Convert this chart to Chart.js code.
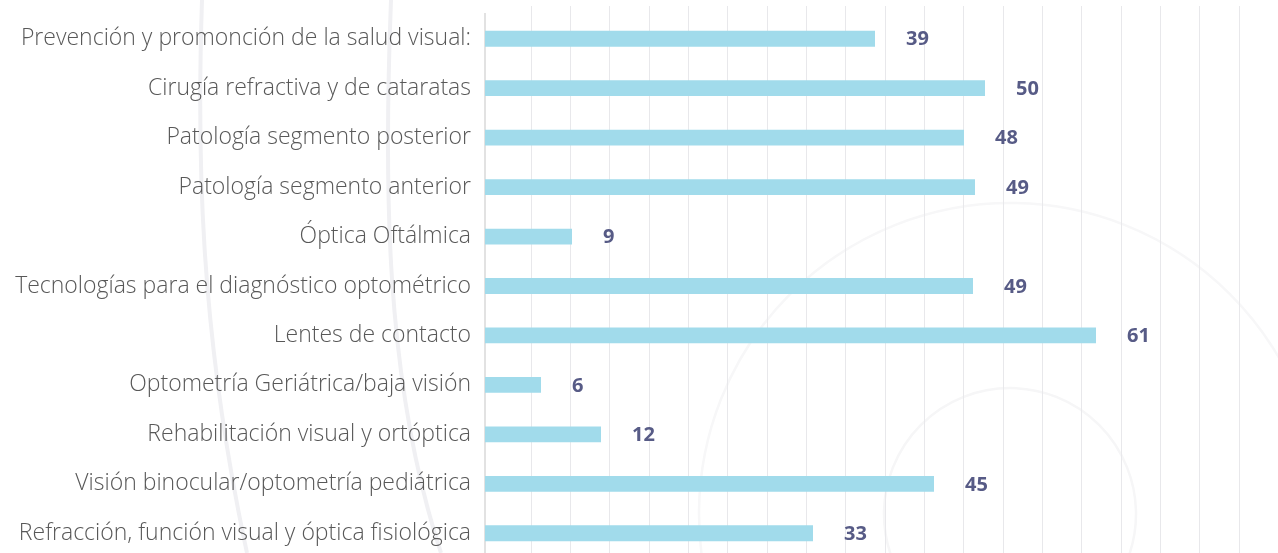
<!DOCTYPE html>
<html><head><meta charset="utf-8">
<script src="https://cdn.jsdelivr.net/npm/chart.js@4"></script>
<style>
html,body{margin:0;padding:0;background:#fff;overflow:hidden;width:1278px;height:553px}
#wrap{width:1278px;height:553px;overflow:hidden;position:relative}
#decor{position:absolute;left:0;top:0}
#wrap canvas{display:block;position:relative}
</style></head><body>
<div id="wrap">
<svg id="decor" width="1278" height="553" viewBox="0 0 1278 553" aria-hidden="true">
  <g fill="none">
    <path d="M202 0 C197 150 199 330 247 553" stroke="#f0f0f3" stroke-width="4"/>
    <path d="M391 0 C384 180 384 380 441 553" stroke="#f0f0f3" stroke-width="4"/>
    <circle cx="1010" cy="514" r="126" stroke="#f6f6f7" stroke-width="2.5"/>
    <circle cx="1010" cy="514" r="311" stroke="#f7f7f8" stroke-width="2.5"/>
  </g>
</svg>
<canvas id="c" width="1278" height="558"></canvas>
</div>
<script>
const categories = [
  "Prevención y promonción de la salud visual:",
  "Cirugía refractiva y de cataratas",
  "Patología segmento posterior",
  "Patología segmento anterior",
  "Óptica Oftálmica",
  "Tecnologías para el diagnóstico optométrico",
  "Lentes de contacto",
  "Optometría Geriátrica/baja visión",
  "Rehabilitación visual y ortóptica",
  "Visión binocular/optometría pediátrica",
  "Refracción, función visual y óptica fisiológica"
];
const values = [39.0, 50.0, 47.9, 49.0, 8.7, 48.8, 61.1, 5.6, 11.6, 44.9, 32.8];
const xMax = 79.3;
const gridFirst = 4.63;
const gridStep = 3.933;

const barColor = "rgb(161,219,235)";
const labelColor = "#575b86";

const valueLabels = {
  id: "valueLabels",
  afterDatasetsDraw(chart) {
    const ctx = chart.ctx;
    const meta = chart.getDatasetMeta(0);
    ctx.save();
    ctx.font = "bold 20px 'Open Sans'";
    ctx.fillStyle = labelColor;
    ctx.textAlign = "left";
    ctx.textBaseline = "middle";
    meta.data.forEach((bar, i) => {
      ctx.fillText(String(Math.round(values[i])), bar.x + 31, bar.y + 1);
    });
    ctx.restore();
  }
};

new Chart(document.getElementById("c"), {
  type: "bar",
  data: {
    labels: categories,
    datasets: [{
      data: values,
      backgroundColor: barColor,
      borderWidth: 0,
      barPercentage: 0.32,
      categoryPercentage: 1
    }]
  },
  options: {
    indexAxis: "y",
    responsive: false,
    animation: false,
    layout: { padding: { top: 6, right: 0, bottom: 0, left: 0 } },
    plugins: { legend: { display: false }, tooltip: { enabled: false } },
    scales: {
      x: {
        position: "top",
        min: 0,
        max: xMax,
        afterBuildTicks(scale) {
          const t = [];
          for (let v = gridFirst; v < xMax; v += gridStep) t.push({ value: v });
          scale.ticks = t;
        },
        afterFit(scale) {
          scale.height = 8;
          scale.paddingLeft = 0; scale.paddingRight = 0;
          scale.paddingTop = 0; scale.paddingBottom = 0;
        },
        ticks: { display: false },
        grid: { color: "#e8e8eb", lineWidth: 1, tickLength: 8, drawTicks: true },
        border: { display: false }
      },
      y: {
        afterFit(scale) {
          scale.width = 485;
          scale.paddingTop = 0; scale.paddingBottom = 0;
          scale.paddingLeft = 0; scale.paddingRight = 0;
        },
        ticks: {
          padding: 14,
          color: "#585858",
          font: { family: "'Open Sans'", size: 23, weight: "300" }
        },
        grid: { display: false, drawTicks: false },
        border: { display: true, color: "#e2e2e2", width: 2 }
      }
    }
  },
  plugins: [valueLabels]
});
</script>
</body></html>
